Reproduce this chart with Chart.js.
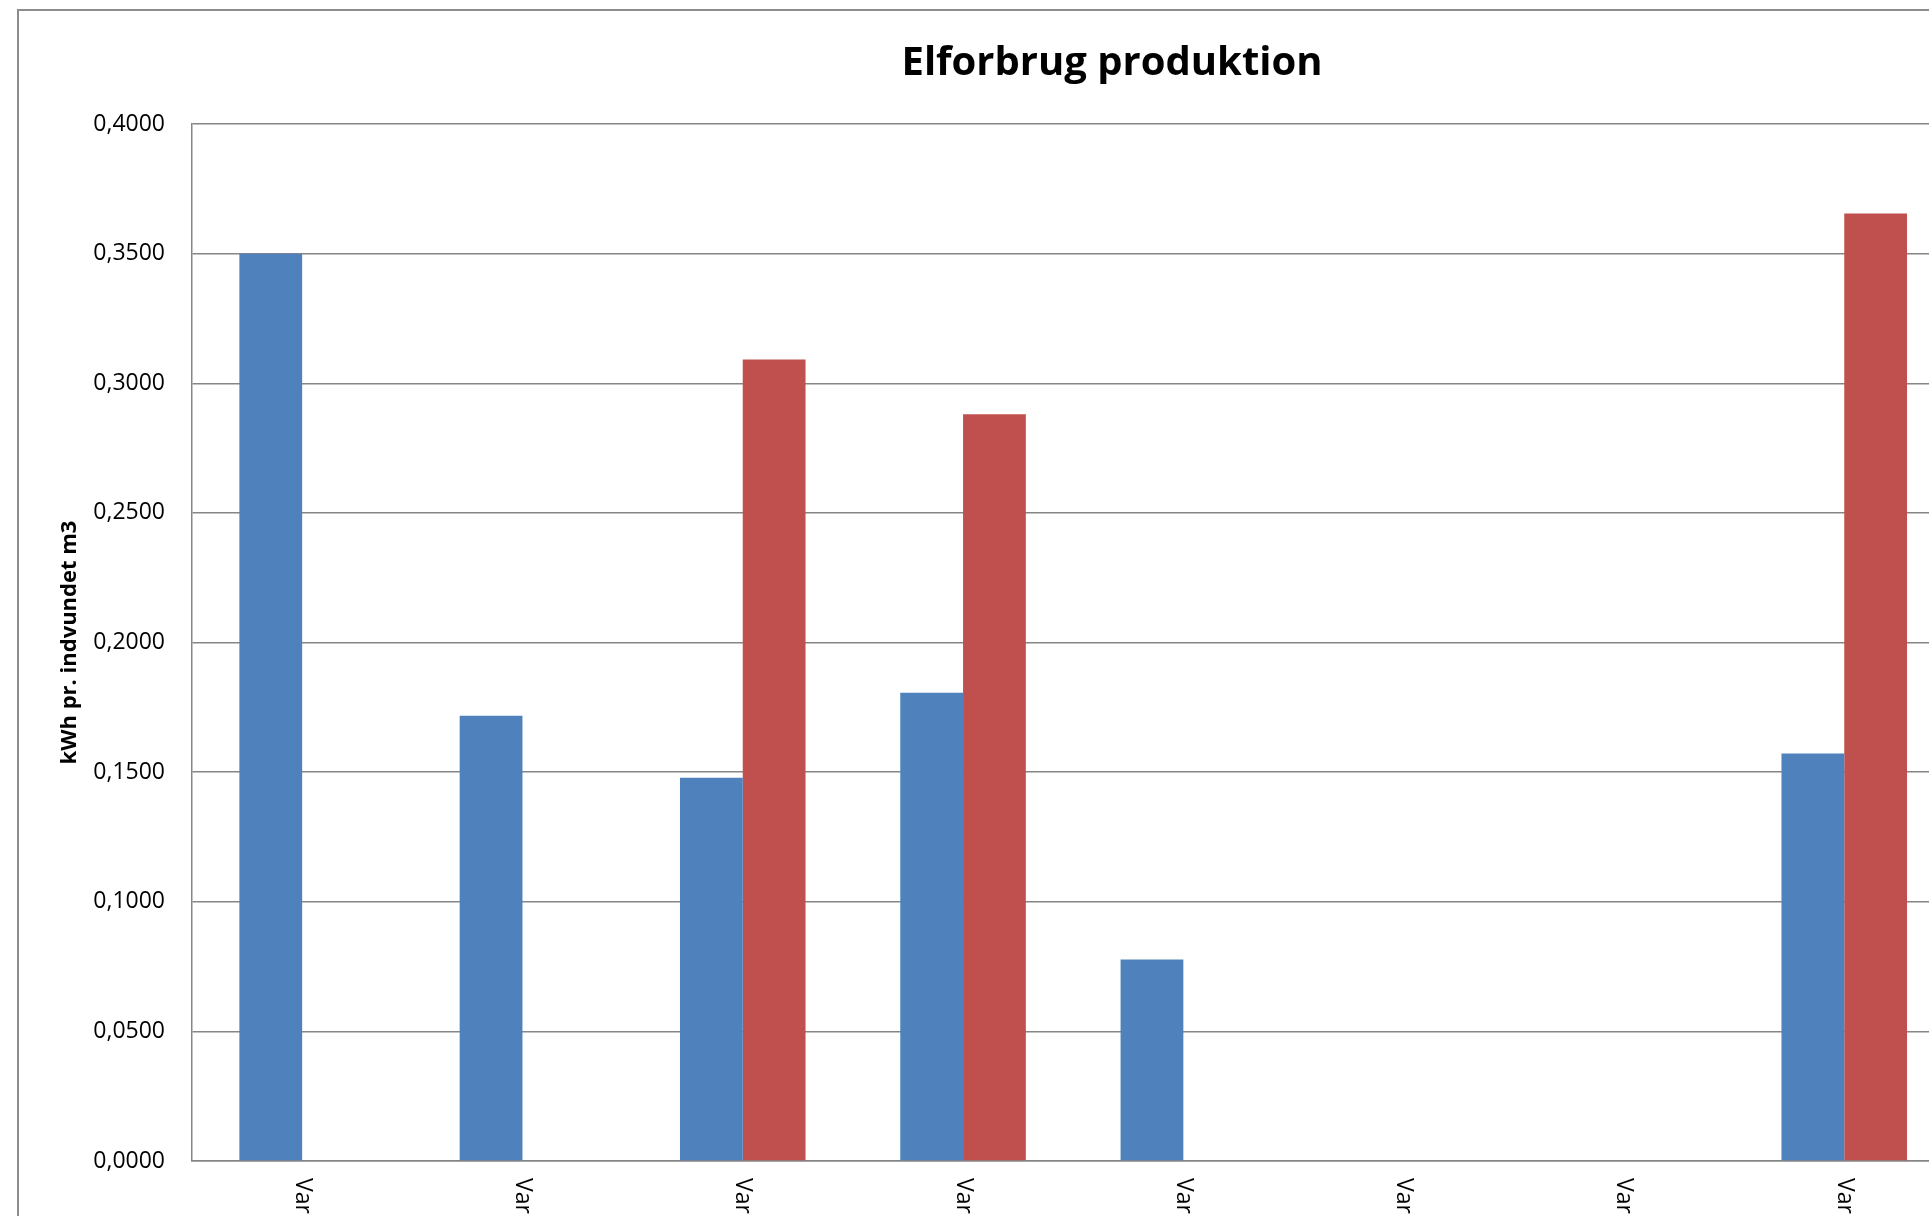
<!DOCTYPE html>
<html>
<head>
<meta charset="utf-8">
<script src="https://cdn.jsdelivr.net/npm/chart.js@4/dist/chart.umd.min.js"></script>
<style>
  html, body { margin: 0; padding: 0; background: #fff; overflow: hidden; }
  #frame {
    position: absolute; left: 17px; top: 9px;
    width: 2186px; height: 1260px;
    border-left: 2px solid #8d8d8d; border-top: 2px solid #8d8d8d;
    background: #fff;
  }
  #canvas1 { display: block; }
</style>
</head>
<body>
<div id="frame"><canvas id="canvas1" width="2186" height="1260"></canvas></div>
<script>
// values
var categories = ['Var', 'Var', 'Var', 'Var', 'Var', 'Var', 'Var', 'Var'];
var serieBlaa = [0.3500, 0.1717, 0.1478, 0.1806, 0.0777, null, null, 0.1572];
var serieRoed = [null, null, 0.3092, 0.2880, null, null, null, 0.3655];
var yMin = 0;
var yMax = 0.4;
var yStep = 0.05;

var fontName = '"Open Sans", "Noto Sans", sans-serif';
var lineGrey = '#868686';

// x labels read top-to-bottom (rotated clockwise), drawn at the category scale positions
var rotatedXLabels = {
  id: 'rotatedXLabels',
  afterDraw: function(chart) {
    var xs = chart.scales.x;
    var c = chart.ctx;
    c.save();
    c.font = '23px ' + fontName;
    c.fillStyle = '#000';
    c.textAlign = 'left';
    c.textBaseline = 'middle';
    for (var i = 0; i < chart.data.labels.length; i++) {
      c.save();
      c.translate(xs.getPixelForValue(i), chart.chartArea.bottom + 17);
      c.rotate(Math.PI / 2);
      c.fillText(chart.data.labels[i], 0, 0);
      c.restore();
    }
    c.restore();
  }
};

var ctx = document.getElementById('canvas1');
var myChart = new Chart(ctx, {
  type: 'bar',
  data: {
    labels: categories,
    datasets: [{
      label: 'Serie 1',
      data: serieBlaa,
      backgroundColor: '#4F81BD',
      borderWidth: 0
    }, {
      label: 'Serie 2',
      data: serieRoed,
      backgroundColor: '#C0504D',
      borderWidth: 0
    }]
  },
  options: {
    responsive: false,
    animation: false,
    layout: { padding: { left: 0, right: 0, top: 0, bottom: 102 } },
    datasets: { bar: { categoryPercentage: 0.57, barPercentage: 1.0 } },
    plugins: {
      legend: { display: false },
      tooltip: { enabled: false },
      title: {
        display: true,
        text: 'Elforbrug produktion',
        color: '#000',
        font: { family: fontName, size: 40, weight: 'bold' },
        padding: { top: 29, bottom: 36 }
      }
    },
    scales: {
      x: {
        grid: { display: false },
        border: { display: true, color: lineGrey, width: 1.5 },
        ticks: { display: false }
      },
      y: {
        min: yMin,
        max: yMax,
        ticks: {
          stepSize: yStep,
          padding: 27,
          color: '#000',
          font: { family: fontName, size: 23 },
          callback: function(v) { return Number(v).toFixed(4).replace('.', ','); }
        },
        grid: { color: lineGrey, lineWidth: 1.5, drawTicks: false },
        border: { display: true, color: lineGrey, width: 1.5 },
        title: {
          display: true,
          text: 'kWh pr. indvundet m3',
          color: '#000',
          font: { family: fontName, size: 22, weight: 'bold' },
          padding: { top: 38, bottom: 0 }
        },
        afterFit: function(scale) { scale.width = 173; }
      },
      // empty space on the right so the title sits over the whole chart
      yRight: {
        type: 'linear',
        position: 'right',
        grid: { display: false },
        border: { display: false },
        ticks: { display: false },
        afterFit: function(scale) { scale.width = 250.6; }
      }
    }
  },
  plugins: [rotatedXLabels]
});
</script>
</body>
</html>
